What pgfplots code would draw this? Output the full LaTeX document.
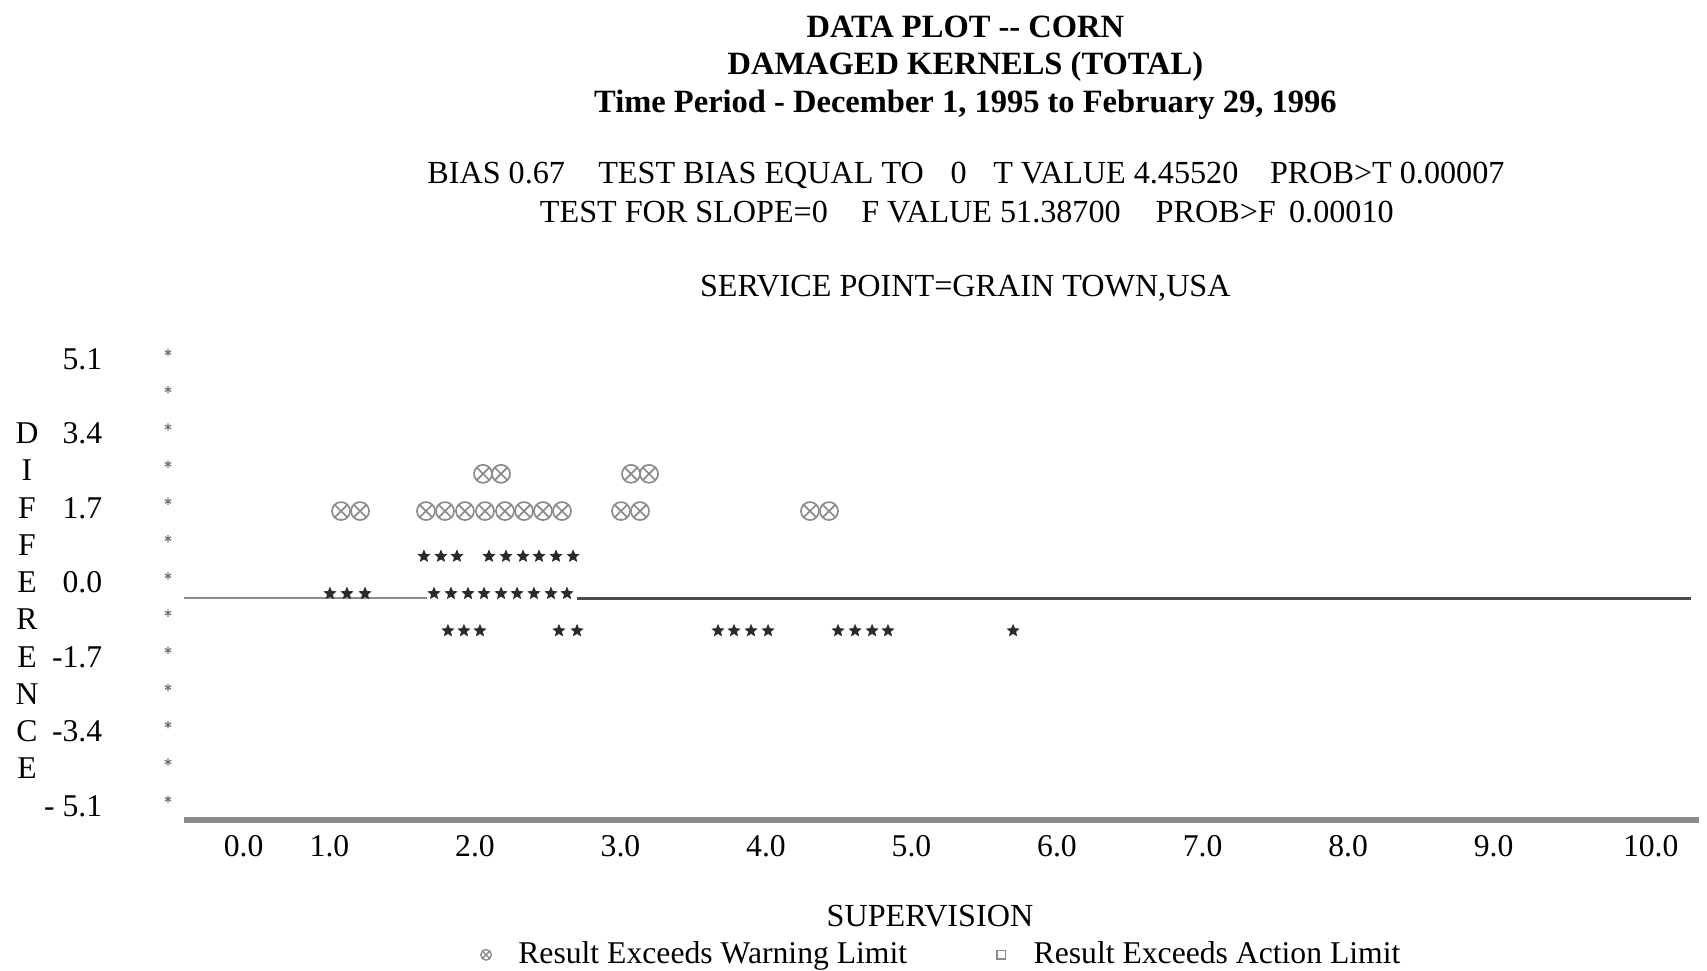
\documentclass[border=0pt]{standalone}
\usepackage{fontspec}
\setmainfont{Liberation Serif}
\usepackage{pgfplots}
\pgfplotsset{compat=1.18}
\usetikzlibrary{plotmarks}
\newcommand\fs{\fontsize{9.5}{11}\selectfont}
\newcommand\fst{\fontsize{9.65}{11}\selectfont}
\newcommand\fsb{\fontsize{9.75}{11}\selectfont\bfseries}
\definecolor{warn}{HTML}{8A8A8A}
\definecolor{starc}{HTML}{2A2A2A}
\pgfdeclareplotmark{fstar}{%
  \pgfpathmoveto{\pgfpointpolar{90}{\pgfplotmarksize}}%
  \pgfpathlineto{\pgfpointpolar{126}{0.45\pgfplotmarksize}}%
  \pgfpathlineto{\pgfpointpolar{162}{\pgfplotmarksize}}%
  \pgfpathlineto{\pgfpointpolar{198}{0.45\pgfplotmarksize}}%
  \pgfpathlineto{\pgfpointpolar{234}{\pgfplotmarksize}}%
  \pgfpathlineto{\pgfpointpolar{270}{0.45\pgfplotmarksize}}%
  \pgfpathlineto{\pgfpointpolar{306}{\pgfplotmarksize}}%
  \pgfpathlineto{\pgfpointpolar{342}{0.45\pgfplotmarksize}}%
  \pgfpathlineto{\pgfpointpolar{18}{\pgfplotmarksize}}%
  \pgfpathlineto{\pgfpointpolar{54}{0.45\pgfplotmarksize}}%
  \pgfpathclose
  \pgfusepathqfillstroke}
\begin{document}
\begin{tikzpicture}
\begin{axis}[
  x=43.65pt, y=13.14pt,
  xmin=0, xmax=10.41, ymin=-5.42, ymax=5.6,
  clip=false,
  axis line style={draw=none},
  major tick length=0pt,
  xtick={0.41,1,2,3,4,5,6,7,8,9,10.08},
  xticklabels={0.0,1.0,2.0,3.0,4.0,5.0,6.0,7.0,8.0,9.0,10.0},
  ytick={5.1,3.4,1.7,0,-1.7,-3.4,-5.1},
  yticklabels={5.1,3.4,1.7,0.0,-1.7,-3.4,- 5.1},
  ticklabel style={font=\fs, text=black},
  /pgf/number format/assume math mode=true,
  yticklabel style={anchor=east, xshift=-21pt},
  xticklabel style={yshift=-1pt},
  legend columns=2,
  legend style={draw=none, fill=none, font=\fs, at={(axis cs:1.905,-8.50)}, anchor=west,
    /tikz/every even column/.append style={column sep=22pt}},
  legend image code/.code={\draw[#1] plot coordinates {(0.15cm,0cm)}; \path[draw=none] (0cm,0cm) rectangle (0.42cm,0.01cm);},
]
% legend entries
\addlegendimage{only marks, mark=otimes, mark size=1.6pt, warn, line width=0.4pt}
\addlegendentry{Result Exceeds Warning Limit}
\addlegendimage{only marks, mark=square, mark size=1.3pt, warn, line width=0.4pt}
\addlegendentry{Result Exceeds Action Limit}

% zero line
\addplot[forget plot, line width=0.5pt, black!45] coordinates {(0,-0.354) (1.67,-0.354)};
\addplot[forget plot, line width=0.9pt, black!70] coordinates {(2.70,-0.354) (10.36,-0.354)};
% bottom axis line
\addplot[forget plot, line width=1.6pt, black!45] coordinates {(0,-5.42) (10.41,-5.42)};

% left asterisk column
\addplot[forget plot, only marks, mark=asterisk, mark size=1.1pt, black!55, line width=0.35pt,
  mark options={yshift=2pt}] coordinates {
  (-0.11,5.1) (-0.11,4.25) (-0.11,3.4) (-0.11,2.55) (-0.11,1.7) (-0.11,0.85) (-0.11,0)
  (-0.11,-0.85) (-0.11,-1.7) (-0.11,-2.55) (-0.11,-3.4) (-0.11,-4.25) (-0.11,-5.1)};

% warning limit points
\addplot[forget plot, only marks, mark=otimes, mark size=2.7pt, warn, line width=0.5pt,
  mark options={yshift=-0.9pt}] coordinates {
  (2.055,2.55) (2.179,2.55) (3.072,2.55) (3.196,2.55)
  (1.079,1.7) (1.210,1.7)
  (1.663,1.7) (1.794,1.7) (1.931,1.7) (2.069,1.7) (2.206,1.7) (2.337,1.7) (2.467,1.7) (2.598,1.7)
  (3.003,1.7) (3.134,1.7) (4.302,1.7) (4.433,1.7)};

% ordinary results
\addplot[forget plot, only marks, mark=fstar, mark size=1.8pt, starc, line width=0.2pt,
  mark options={yshift=-3.3pt}] coordinates {
  (1.649,0.85) (1.766,0.85) (1.876,0.85)
  (2.096,0.85) (2.213,0.85) (2.330,0.85) (2.440,0.85) (2.557,0.85) (2.674,0.85)
  (1.003,0) (1.120,0) (1.244,0)
  (1.718,0) (1.835,0) (1.952,0) (2.062,0) (2.179,0) (2.289,0) (2.405,0) (2.522,0) (2.632,0)
  (1.814,-0.85) (1.924,-0.85) (2.034,-0.85) (2.577,-0.85) (2.701,-0.85)
  (3.670,-0.85) (3.780,-0.85) (3.897,-0.85) (4.014,-0.85)
  (4.495,-0.85) (4.612,-0.85) (4.729,-0.85) (4.838,-0.85)
  (5.698,-0.85)};

% titles
\node[anchor=base, font=\fsb] at (axis cs:5.37,12.45) {DATA PLOT -{}- CORN};
\node[anchor=base, font=\fsb] at (axis cs:5.37,11.59) {DAMAGED KERNELS (TOTAL)};
\node[anchor=base, font=\fsb] at (axis cs:5.37,10.72) {Time Period - December 1, 1995 to February 29, 1996};
\node[anchor=base, font=\fst] at (axis cs:5.374,9.10) {BIAS 0.67\hspace{10pt}TEST BIAS EQUAL TO\hspace{8pt}0\hspace{8pt}T VALUE 4.45520\hspace{9.5pt}PROB>T 0.00007};
\node[anchor=base, font=\fst] at (axis cs:5.38,8.23) {TEST FOR SLOPE=0\hspace{10pt}F VALUE 51.38700\hspace{10.5pt}PROB>F\hspace{4pt}0.00010};
\node[anchor=base, font=\fst] at (axis cs:5.37,6.54) {SERVICE POINT=GRAIN TOWN,USA};
\node[anchor=base, font=\fst] at (axis cs:5.127,-7.86) {SUPERVISION};
% vertical axis title
\node[anchor=base, font=\fs] at (axis cs:-1.079,3.17) {D};
\node[anchor=base, font=\fs] at (axis cs:-1.079,2.32) {I};
\node[anchor=base, font=\fs] at (axis cs:-1.079,1.47) {F};
\node[anchor=base, font=\fs] at (axis cs:-1.079,0.62) {F};
\node[anchor=base, font=\fs] at (axis cs:-1.079,-0.23) {E};
\node[anchor=base, font=\fs] at (axis cs:-1.079,-1.08) {R};
\node[anchor=base, font=\fs] at (axis cs:-1.079,-1.93) {E};
\node[anchor=base, font=\fs] at (axis cs:-1.079,-2.78) {N};
\node[anchor=base, font=\fs] at (axis cs:-1.079,-3.63) {C};
\node[anchor=base, font=\fs] at (axis cs:-1.079,-4.48) {E};
\coordinate (bbA) at (axis cs:-1.2646,-8.847);
\coordinate (bbB) at (axis cs:10.467,13.30);
\end{axis}
\pgfresetboundingbox
\path[use as bounding box] (bbA) rectangle (bbB);
\end{tikzpicture}
\end{document}
